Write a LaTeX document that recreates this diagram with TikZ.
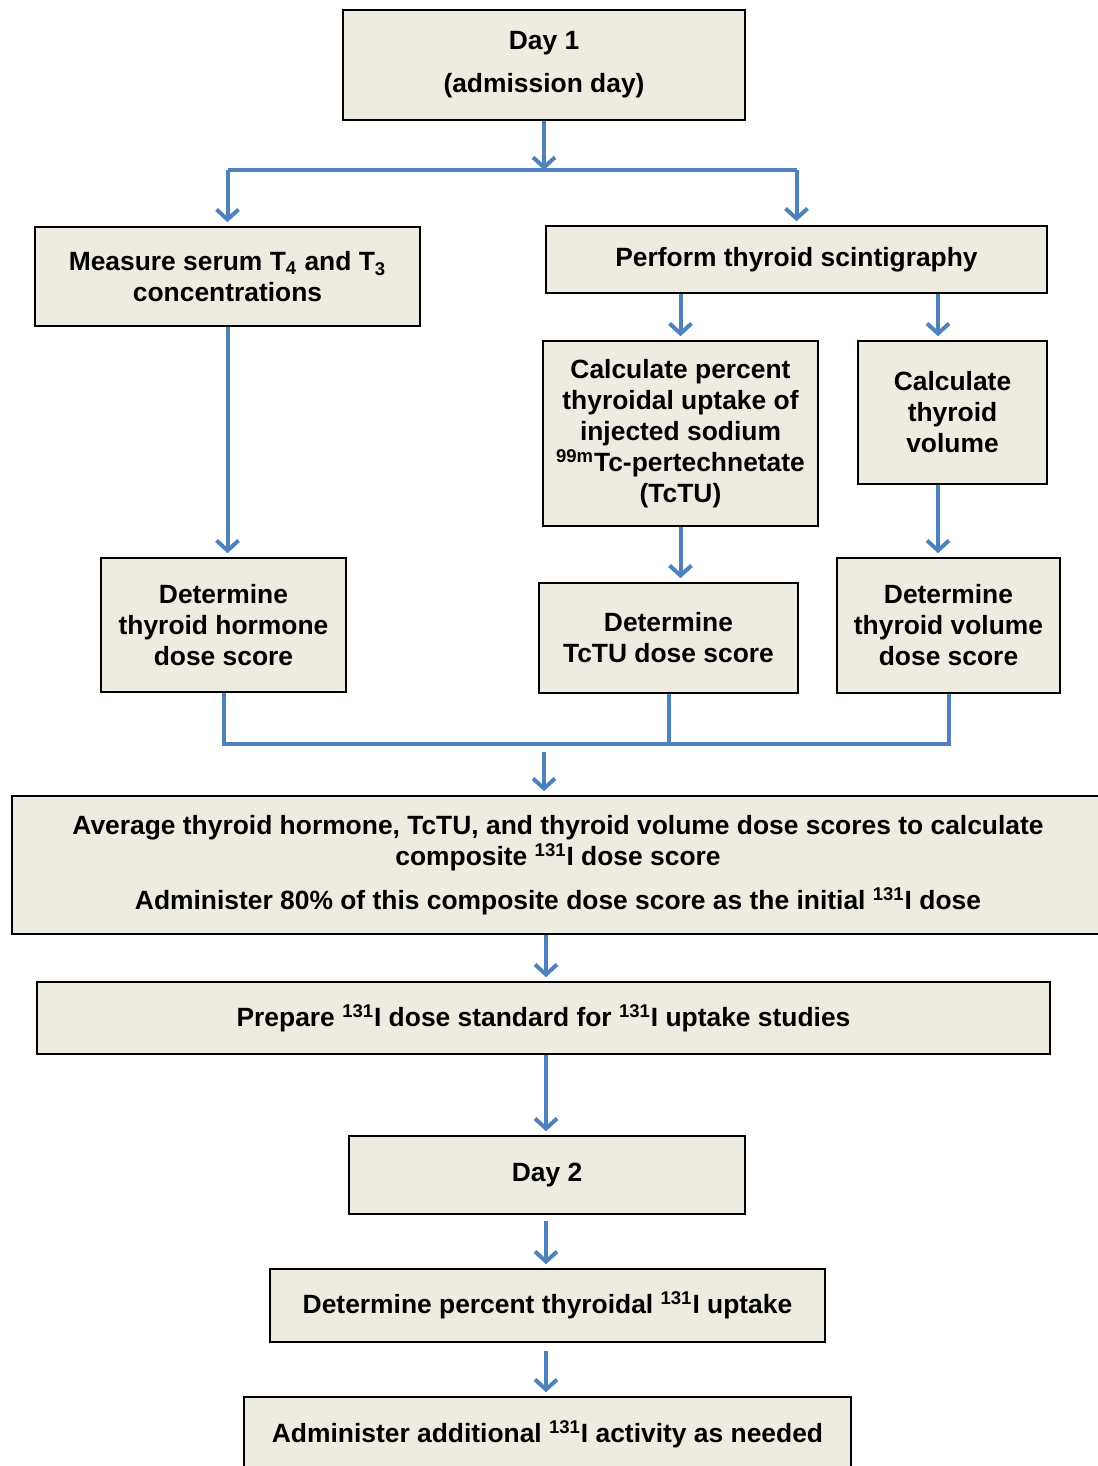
\documentclass[tikz,border=0pt]{standalone}
\usepackage{fontspec}
\setmainfont{Liberation Sans}
\usepackage{xcolor}
\usepackage{tikz}
\usetikzlibrary{arrows.meta}

\definecolor{boxfill}{HTML}{EEECE1}
\definecolor{flowblue}{HTML}{4F81BD}

\begin{document}
\begin{tikzpicture}[
    x=0.5pt, y=-0.5pt,
    box/.style={
        rectangle,
        draw=black,
        line width=0.8pt,
        fill=boxfill,
        inner sep=0pt,
        align=center,
        font=\bfseries\fontsize{13.2}{15.5}\selectfont
    },
    flow/.style={-{Straight Barb[length=5pt,width=11pt]}, line width=2pt, draw=flowblue, shorten >=2pt},
    link/.style={line width=2pt, draw=flowblue}
]
\useasboundingbox (0,0) rectangle (1097,1466);

\node[box, minimum width=201pt, minimum height=55pt] (dayone) at (544,65) {Day 1\\[6pt](admission day)};

\node[box, minimum width=192.5pt, minimum height=49.5pt] (measure) at (227.5,276.5) {Measure serum T\textsubscript{4} and T\textsubscript{3}\\concentrations};

\node[box, minimum width=250.5pt, minimum height=33.5pt] (scinti) at (796.5,259.5) {Perform thyroid scintigraphy};

\node[box, minimum width=137.5pt, minimum height=92.5pt] (uptake) at (680.5,433.5) {Calculate percent\\thyroidal uptake of\\injected sodium\\\textsuperscript{99m}Tc-pertechnetate\\(TcTU)};

\node[box, minimum width=94.5pt, minimum height=71.5pt] (volume) at (952.5,412.5) {Calculate\\thyroid\\volume};

\node[box, minimum width=122.5pt, minimum height=67pt] (hormonescore) at (223.5,625) {Determine\\thyroid hormone\\dose score};

\node[box, minimum width=129.5pt, minimum height=55pt] (tctuscore) at (668.5,638) {Determine\\TcTU dose score};

\node[box, minimum width=111.5pt, minimum height=67.5pt] (volumescore) at (948.5,625.5) {Determine\\thyroid volume\\dose score};

\node[box, minimum width=546pt, minimum height=69pt] (average) at (558,865) {Average thyroid hormone, TcTU, and thyroid volume dose scores to calculate\\composite \textsuperscript{131}I dose score\\[6.5pt]Administer 80\% of this composite dose score as the initial \textsuperscript{131}I dose};

\node[box, minimum width=506.5pt, minimum height=36pt] (standard) at (543.5,1018) {Prepare \textsuperscript{131}I dose standard for \textsuperscript{131}I uptake studies};

\node[box, minimum width=198pt, minimum height=39pt] (daytwo) at (547,1175) {Day 2};

\node[box, minimum width=277.5pt, minimum height=36.5pt] (percent) at (547.5,1305.5) {Determine percent thyroidal \textsuperscript{131}I uptake};

\node[box, minimum width=303.5pt, minimum height=37pt] (additional) at (547.5,1434) {Administer additional \textsuperscript{131}I activity as needed};

% split and join points
\coordinate (split) at (544,170);
\coordinate (join) at (544,744);
\coordinate (volcol) at (938,0);
\coordinate (spine) at (546,0);

\draw[flow, shorten >=0pt] (dayone) -- (split);
\draw[link] (measure.north |- split) -- (scinti.north |- split);
\draw[flow] (measure.north |- split) -- (measure);
\draw[flow] (scinti.north |- split) -- (scinti);

\draw[flow] (uptake.north |- scinti.south) -- (uptake);
\draw[flow] (volcol |- scinti.south) -- (volcol |- volume.north);

\draw[flow] (measure) -- (measure.south |- hormonescore.north);
\draw[flow] (uptake) -- (uptake.south |- tctuscore.north);
\draw[flow] (volcol |- volume.south) -- (volcol |- volumescore.north);

\draw[link] (hormonescore) -- (hormonescore.south |- join) -- (volumescore.south |- join) -- (volumescore);
\draw[link] (tctuscore) -- (tctuscore.south |- join);
\draw[flow] ([yshift=-4pt]join) -- (join |- average.north);

\draw[flow] (spine |- average.south) -- (spine |- standard.north);
\draw[flow] (spine |- standard.south) -- (spine |- daytwo.north);
\draw[flow, shorten <=3pt] (spine |- daytwo.south) -- (spine |- percent.north);
\draw[flow, shorten <=4pt] (spine |- percent.south) -- (spine |- additional.north);

\end{tikzpicture}
\end{document}
